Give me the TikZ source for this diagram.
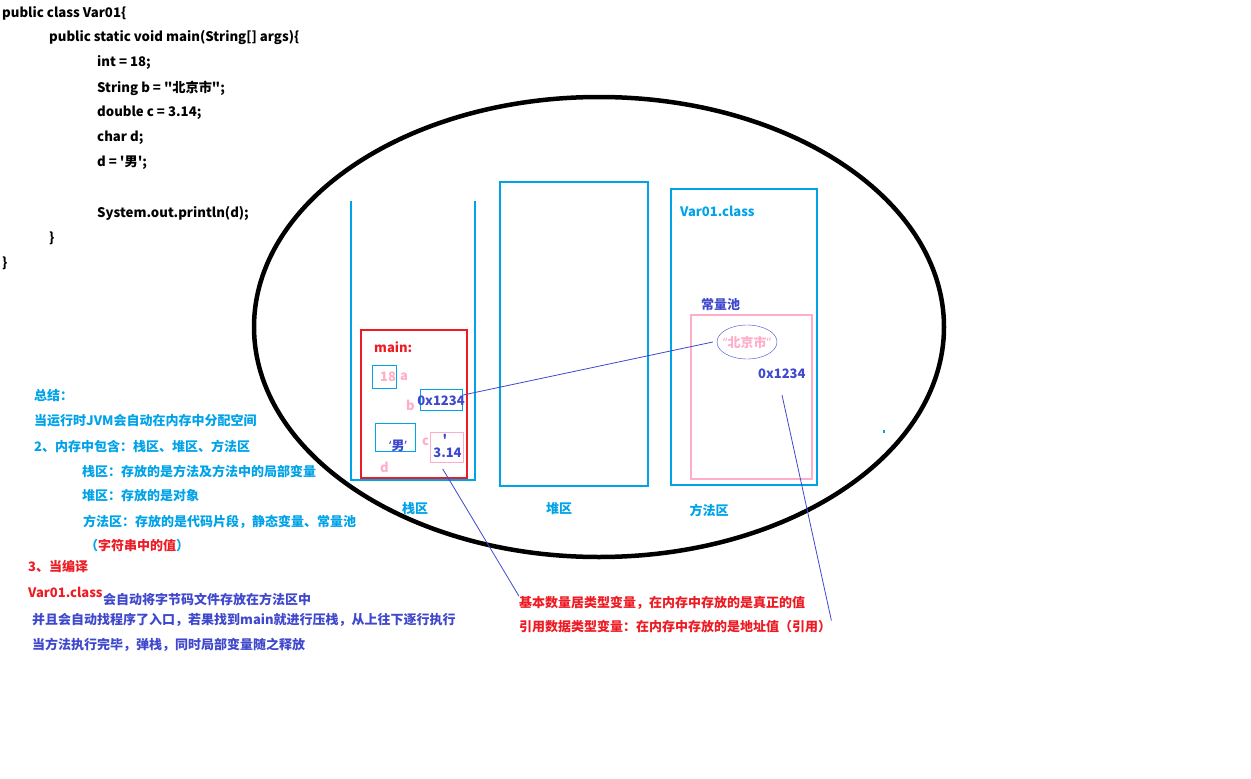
\documentclass[tikz,border=0pt]{standalone}
\usepackage{fontspec}
\setmainfont{Noto Sans CJK SC}
\newfontfamily\codefont{Noto Sans CJK SC}
\newfontfamily\latinfont{Noto Sans}
\usetikzlibrary{shapes.geometric}
\definecolor{qing}{RGB}{0,162,232}
\definecolor{lan}{RGB}{63,72,204}
\definecolor{hong}{RGB}{237,28,36}
\definecolor{fen}{RGB}{255,174,201}

\begin{document}
\begin{tikzpicture}[x=1pt,y=-1pt,
    txt/.style={inner sep=0pt,anchor=west,font=\fontsize{13}{15}\selectfont\bfseries},
    code/.style={txt,font=\codefont\fontsize{13.2}{15}\selectfont\bfseries},
    cell/.style={draw=qing,line width=1.2pt,inner sep=0pt},
    link/.style={lan,line width=0.8pt}]
  \useasboundingbox (0,0) rectangle (1251,779);

  % Java code
  \node[code] (l1) at (2,13) {public class Var01\{};
  \node[code] (l2) at (49,38) {public static void main(String[] args)\{};
  \node[code] (l3) at (97,63) {int = 18;};
  \node[code] (l4) at (97,88) {String b = "北京市";};
  \node[code] (l5) at (97,113) {double c = 3.14;};
  \node[code] (l6) at (97,138) {char d;};
  \node[code] (l7) at (97,163) {d = '男';};
  \node[code] (l8) at (97,213) {System.out.println(d);};
  \node[code] (l9) at (49,238) {\}};
  \node[code] (l10) at (2,263) {\}};

  % Summary on the left
  \node[txt,qing] (s1) at (34,396) {总结：};
  \node[txt,qing] (s2) at (34,421) {当运行时JVM会自动在内存中分配空间};
  \node[txt,qing] (s3) at (34,446) {2、内存中包含：栈区、堆区、方法区};
  \node[txt,qing] (s4) at (82,471) {栈区：存放的是方法及方法中的局部变量};
  \node[txt,qing] (s5) at (82,496) {堆区：存放的是对象};
  \node[txt,qing] (s6) at (83,522) {方法区：存放的是代码片段，静态变量、常量池};
  \node[txt,qing] (s7) at (85,546) {（{\color{hong}字符串中的值}）};
  \node[txt,hong] (s8) at (28,566) {3、当编译};
  \node[txt,hong] (s9) at (28,592) {Var01.class};
  \node[txt,lan] (s10) at (103,599) {会自动将字节码文件存放在方法区中};
  \node[txt,lan] (s11) at (32,620) {并且会自动找程序了入口，若果找到main就进行压栈，从上往下逐行执行};
  \node[txt,lan] (s12) at (32,645) {当方法执行完毕，弹栈，同时局部变量随之释放};

  % Memory (big ellipse)
  \draw[line width=4.5pt] (599,327) ellipse [x radius=345, y radius=230];

  % Stack, heap, method area
  \draw[qing,line width=1.2pt] (351,201) |- (475,480) -- (475,201);
  \draw[qing,line width=1.2pt] (500,182) rectangle (648,486);
  \draw[qing,line width=1.2pt] (671,189) rectangle (817,485);
  \node[txt,qing,anchor=center] (stackLbl) at (415,509) {栈区};
  \node[txt,qing,anchor=center] (heapLbl) at (559,509) {堆区};
  \node[txt,qing,anchor=center] (methLbl) at (709,510) {方法区};

  % Frame of main
  \draw[hong,line width=1.2pt] (361,330) rectangle (467,478);
  \node[txt,hong] (mainLbl) at (374,347) {main:};
  \node[cell,minimum width=24,minimum height=23] (acell) at (384.5,377) {};
  \node[txt,fen,anchor=center] (aval) at (388,377) {18};
  \node[txt,fen] (aname) at (400,377) {a};
  \node[cell,minimum width=42,minimum height=21] (bcell) at (441.5,400) {};
  \node[txt,lan,anchor=center] (bval) at (441,401) {0x1234};
  \node[txt,fen] (bname) at (406,405) {b};
  \node[cell,minimum width=40,minimum height=28] (dcell) at (395.3,437.3) {};
  \node[txt,lan,anchor=center] (dval) at (398,446) {{\latinfont‘}男{\latinfont’}};
  \node[txt,fen] (dname) at (380,467) {d};
  \node[cell,draw=fen,minimum width=33,minimum height=30] (ccell) at (446.7,447.3) {};
  \node[txt,lan,anchor=center] (ctick) at (445,439) {\codefont'};
  \node[txt,lan,anchor=center] (cval) at (447.5,453) {3.14};
  \node[txt,fen] (cname) at (422,442) {c};

  % Method area contents
  \node[txt,qing] (clsLbl) at (680,211) {Var01.class};
  \node[txt,lan] (poolLbl) at (701,305) {常量池};
  \draw[fen,line width=1.2pt] (691,315) rectangle (812,479);
  \node[draw=lan,ellipse,inner sep=0pt,minimum width=60,minimum height=34,
        font=\fontsize{13}{15}\selectfont\bfseries,text=fen]
        (strlit) at (747,342) {\makebox[0pt]{{\latinfont“}北京市{\latinfont”}}};
  \node[txt,lan] (poolAddr) at (758,374) {0x1234};
  \fill[qing] (883,429.5) rectangle (885,432.5);

  % Notes in red
  \node[txt,hong] (basicTxt) at (519,603) {基本数量居类型变量，在内存中存放的是真正的值};
  \node[txt,hong] (refTxt) at (519,627) {引用数据类型变量：在内存中存放的是地址值（引用）};

  % Connectors
  \coordinate (poolTail) at (782,395);
  \draw[link] ([yshift=5pt]bcell.east) -- ([xshift=-4pt]strlit.west);
  \draw[link] (ccell.south) ++(-4,6) -- (basicTxt.north west);
  \draw[link] (poolTail) -- (refTxt.north east);
\end{tikzpicture}
\end{document}
